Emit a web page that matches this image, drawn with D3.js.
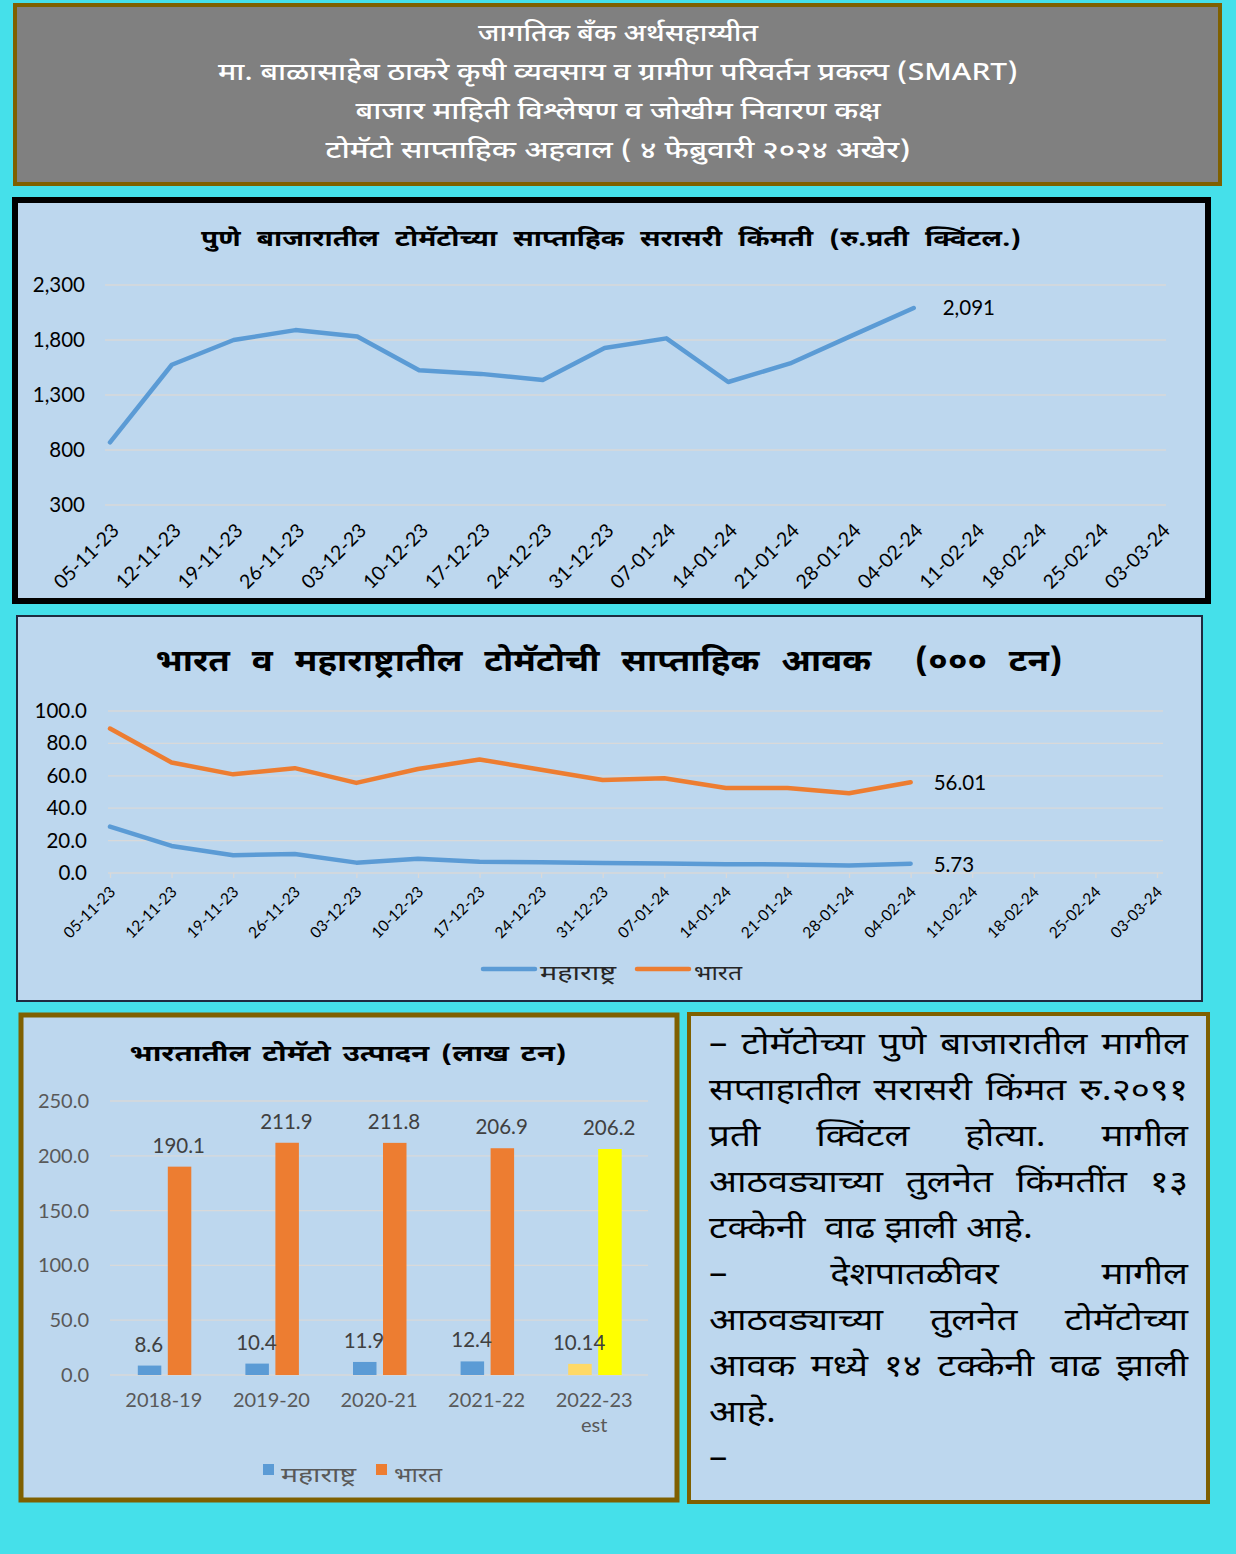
<!DOCTYPE html>
<html>
<head>
<meta charset="utf-8">
<script src="https://cdn.jsdelivr.net/npm/d3@7"></script>
<style>
  html, body { margin: 0; padding: 0; background: #45E0EA; }
  svg { display: block; }
</style>
</head>
<body>
<div id="chart"></div>
<script>
// साप्ताहिक तारखा
const weeks = ['05-11-23', '12-11-23', '19-11-23', '26-11-23', '03-12-23', '10-12-23', '17-12-23', '24-12-23',
  '31-12-23', '07-01-24', '14-01-24', '21-01-24', '28-01-24', '04-02-24', '11-02-24', '18-02-24', '25-02-24', '03-03-24'];

// पुणे बाजार सरासरी किंमत (रु./क्विंटल)
const punePrice = [870, 1575, 1800, 1890, 1832, 1525, 1492, 1437, 1727, 1815, 1418, 1587, 1840, 2091];

// आवक (००० टन)
const indiaArrival = [89.2, 68.2, 60.9, 64.7, 55.6, 64.2, 70.1, 63.7, 57.4, 58.5, 52.5, 52.5, 49.2, 56.01];
const mahaArrival = [28.6, 16.7, 11.0, 11.7, 6.4, 8.8, 6.9, 6.7, 6.2, 5.8, 5.4, 5.3, 4.6, 5.73];

// उत्पादन (लाख टन)
const years = ['2018-19', '2019-20', '2020-21', '2021-22', '2022-23 est'];
const mahaProd = [8.6, 10.4, 11.9, 12.4, 10.14];
const indiaProd = [190.1, 211.9, 211.8, 206.9, 206.2];

const deva = "'Noto Sans Devanagari', 'Lohit Devanagari', 'Noto Sans', sans-serif";
const num = "Lato, 'Noto Sans', sans-serif";
const blue = '#5B9BD5', orange = '#ED7D31', panelFill = '#BDD7EE', brown = '#7F6000', grid = '#D9D9D9';

const width = 1236, height = 1554;
const svg = d3.select('#chart').append('svg').attr('width', width).attr('height', height);
svg.append('rect').attr('width', width).attr('height', height).attr('fill', '#45E0EA');

// पॅनेल्स
function panel(x, y, w, h, fill, stroke, sw) {
  svg.append('rect').attr('x', x).attr('y', y).attr('width', w).attr('height', h)
    .attr('fill', fill).attr('stroke', stroke).attr('stroke-width', sw);
}
panel(15, 5, 1205, 179, '#808080', brown, 4);
panel(15, 200, 1193, 401, panelFill, '#000', 6);
panel(17, 616, 1185, 385, panelFill, '#1F2A40', 2);
panel(21, 1015, 656, 485, panelFill, brown, 5);
panel(689, 1014, 519, 488, panelFill, brown, 4);

// शीर्षक
const header = ['जागतिक बँक अर्थसहाय्यीत',
  'मा. बाळासाहेब ठाकरे कृषी व्यवसाय व ग्रामीण परिवर्तन प्रकल्प (SMART)',
  'बाजार माहिती विश्लेषण व जोखीम निवारण कक्ष',
  'टोमॅटो  साप्ताहिक अहवाल ( ४ फेब्रुवारी २०२४ अखेर)'];
const headerW = [280, 800, 525, 585];
svg.append('g').selectAll('text').data(header).join('text')
  .attr('x', 618).attr('y', (d, i) => 41 + i * 39)
  .attr('text-anchor', 'middle').attr('fill', '#fff')
  .attr('font-family', deva).attr('font-size', 24).attr('font-weight', 500)
  .attr('textLength', (d, i) => headerW[i]).attr('lengthAdjust', 'spacingAndGlyphs')
  .text(d => d);

function title(g, x, y, size, gap, len, txt) {
  g.append('text').attr('x', x).attr('y', y).attr('text-anchor', 'middle')
    .attr('font-family', deva).attr('font-size', size).attr('font-weight', 'bold')
    .attr('xml:space', 'preserve').style('word-spacing', gap + 'px')
    .attr('textLength', len).attr('lengthAdjust', 'spacingAndGlyphs')
    .text(txt);
}

// ---------- चार्ट १ : पुणे किंमत ----------
const x1 = d3.scalePoint().domain(weeks).range([110, 1161]);
const y1 = d3.scaleLinear().domain([300, 2300]).range([505, 285]);
const g1 = svg.append('g');
title(g1, 611, 246, 22, 7, 820, 'पुणे बाजारातील टोमॅटोच्या साप्ताहिक सरासरी किंमती (रु.प्रती क्विंटल.)');
g1.append('g').selectAll('line').data(d3.range(300, 2301, 500)).join('line')
  .attr('x1', 105).attr('x2', 1166).attr('y1', d => y1(d)).attr('y2', d => y1(d))
  .attr('stroke', grid).attr('stroke-width', 1.3);
g1.append('g').attr('transform', 'translate(105,0)')
  .call(d3.axisLeft(y1).tickValues(d3.range(300, 2301, 500)).tickFormat(d3.format(',')).tickSize(0).tickPadding(20))
  .call(g => g.select('.domain').remove())
  .call(g => g.selectAll('text').attr('font-family', num).attr('font-size', 20.5).attr('fill', '#000'));
g1.append('g').attr('transform', 'translate(0,512)')
  .call(d3.axisBottom(x1).tickSize(0).tickPadding(0))
  .call(g => g.select('.domain').remove())
  .call(g => g.selectAll('text').attr('font-family', num).attr('font-size', 19.5).attr('fill', '#000')
    .attr('text-anchor', 'end').attr('y', 0).attr('dy', '0.35em')
    .attr('transform', 'translate(5,15) rotate(-45)'));
g1.append('path').datum(punePrice)
  .attr('fill', 'none').attr('stroke', blue).attr('stroke-width', 4.5)
  .attr('stroke-linejoin', 'round').attr('stroke-linecap', 'round')
  .attr('d', d3.line().x((d, i) => x1(weeks[i])).y(d => y1(d)));
g1.append('text').attr('x', x1(weeks[punePrice.length - 1]) + 29).attr('y', y1(punePrice[punePrice.length - 1]) + 7)
  .attr('font-family', num).attr('font-size', 20.5).text(d3.format(',')(punePrice[punePrice.length - 1]));

// ---------- चार्ट २ : आवक ----------
const x2 = d3.scalePoint().domain(weeks).range([110, 1157]);
const y2 = d3.scaleLinear().domain([0, 100]).range([873, 711]);
const g2 = svg.append('g');
title(g2, 609, 671, 30, 11, 907, 'भारत व महाराष्ट्रातील टोमॅटोची साप्ताहिक आवक  (००० टन)');
g2.append('g').selectAll('line').data(d3.range(20, 101, 20)).join('line')
  .attr('x1', 108).attr('x2', 1163).attr('y1', d => y2(d)).attr('y2', d => y2(d))
  .attr('stroke', grid).attr('stroke-width', 1.3);
g2.append('g').attr('transform', 'translate(108,0)')
  .call(d3.axisLeft(y2).tickValues(d3.range(0, 101, 20)).tickFormat(d3.format('.1f')).tickSize(0).tickPadding(21))
  .call(g => g.select('.domain').remove())
  .call(g => g.selectAll('text').attr('font-family', num).attr('font-size', 20.5).attr('fill', '#000'));
g2.append('g').attr('transform', 'translate(0,873)')
  .call(d3.axisBottom(x2).tickSize(5).tickPadding(4))
  .call(g => g.select('.domain').attr('d', 'M108,0H1163').attr('stroke', grid).attr('stroke-width', 1.3))
  .call(g => g.selectAll('.tick line').attr('stroke', grid).attr('stroke-width', 1.3))
  .call(g => g.selectAll('text').attr('font-family', num).attr('font-size', 15.5).attr('fill', '#000')
    .attr('text-anchor', 'end').attr('y', 0).attr('dy', '0.35em')
    .attr('transform', 'translate(2,16) rotate(-45)'));
const arrivals = [{ name: 'महाराष्ट्र', values: mahaArrival, color: blue, lw: 76 },
  { name: 'भारत', values: indiaArrival, color: orange, lw: 48 }];
const line2 = d3.line().x((d, i) => x2(weeks[i])).y(d => y2(d));
g2.append('g').selectAll('path').data(arrivals).join('path')
  .attr('fill', 'none').attr('stroke', d => d.color).attr('stroke-width', 4.5)
  .attr('stroke-linejoin', 'round').attr('stroke-linecap', 'round')
  .attr('d', d => line2(d.values));
g2.append('g').selectAll('text').data(arrivals).join('text')
  .attr('x', d => x2(weeks[d.values.length - 1]) + 23)
  .attr('y', d => y2(d.values[d.values.length - 1]) + 8)
  .attr('font-family', num).attr('font-size', 20.5)
  .text(d => d.values[d.values.length - 1]);
const leg2 = g2.append('g').selectAll('g').data(arrivals).join('g')
  .attr('transform', (d, i) => `translate(${483 + i * 154},969)`);
leg2.append('line').attr('x2', 52).attr('stroke', d => d.color).attr('stroke-width', 4.5).attr('stroke-linecap', 'round');
leg2.append('text').attr('x', 57).attr('y', 11).attr('font-family', deva).attr('font-size', 20).attr('fill', '#262626')
  .attr('textLength', d => d.lw).attr('lengthAdjust', 'spacingAndGlyphs')
  .text(d => d.name);

// ---------- चार्ट ३ : उत्पादन ----------
const x3 = d3.scaleBand().domain(years).range([110, 648]);
const y3 = d3.scaleLinear().domain([0, 250]).range([1375, 1101]);
const g3 = svg.append('g');
title(g3, 348, 1061, 22, 3, 437, 'भारतातील टोमॅटो उत्पादन (लाख टन)');
g3.append('g').selectAll('line').data(d3.range(0, 251, 50)).join('line')
  .attr('x1', 110).attr('x2', 648).attr('y1', d => y3(d)).attr('y2', d => y3(d))
  .attr('stroke', grid).attr('stroke-width', 1.3);
g3.append('g').attr('transform', 'translate(110,0)')
  .call(d3.axisLeft(y3).tickValues(d3.range(0, 251, 50)).tickFormat(d3.format('.1f')).tickSize(0).tickPadding(21))
  .call(g => g.select('.domain').remove())
  .call(g => g.selectAll('text').attr('font-family', num).attr('font-size', 20).attr('fill', '#595959'));
const xa3 = g3.append('g').attr('transform', 'translate(0,1375)')
  .call(d3.axisBottom(x3).tickSize(0).tickPadding(28))
  .call(g => g.select('.domain').remove());
xa3.selectAll('text').attr('font-family', num).attr('font-size', 20).attr('fill', '#595959')
  .text(null)
  .selectAll('tspan').data(d => d.split(' ')).join('tspan')
  .attr('x', 0).attr('dy', (d, i) => i ? '1.25em' : '0.2em').text(d => d);
const prod = years.map((y, i) => ({ year: y, maha: mahaProd[i], india: indiaProd[i], est: y.includes('est') }));
const bw = 23.5;
g3.append('g').selectAll('rect').data(prod).join('rect')
  .attr('x', d => x3(d.year) + x3.bandwidth() / 2 - 26).attr('width', bw)
  .attr('y', d => y3(d.maha)).attr('height', d => y3(0) - y3(d.maha))
  .attr('fill', d => d.est ? '#FFD966' : blue);
g3.append('g').selectAll('rect').data(prod).join('rect')
  .attr('x', d => x3(d.year) + x3.bandwidth() / 2 + 4).attr('width', bw)
  .attr('y', d => y3(d.india)).attr('height', d => y3(0) - y3(d.india))
  .attr('fill', d => d.est ? '#FFFF00' : orange);
g3.append('g').selectAll('text').data(prod).join('text')
  .attr('x', d => x3(d.year) + x3.bandwidth() / 2 - 15).attr('y', d => y3(d.maha) - 14)
  .attr('text-anchor', 'middle').attr('font-family', num).attr('font-size', 20.5).attr('fill', '#404040')
  .text(d => d.maha);
g3.append('g').selectAll('text').data(prod).join('text')
  .attr('x', d => x3(d.year) + x3.bandwidth() / 2 + 15).attr('y', d => y3(d.india) - 14)
  .attr('text-anchor', 'middle').attr('font-family', num).attr('font-size', 20.5).attr('fill', '#404040')
  .text(d => d.india);
const leg3 = g3.append('g').selectAll('g').data([{ name: 'महाराष्ट्र', color: blue, lw: 75 }, { name: 'भारत', color: orange, lw: 48 }]).join('g')
  .attr('transform', (d, i) => `translate(${263 + i * 113},1464)`);
leg3.append('rect').attr('width', 11).attr('height', 11).attr('fill', d => d.color);
leg3.append('text').attr('x', 18).attr('y', 18).attr('font-family', deva).attr('font-size', 20).attr('fill', '#595959')
  .attr('textLength', d => d.lw).attr('lengthAdjust', 'spacingAndGlyphs')
  .text(d => d.name);

// ---------- मजकूर ----------
const noteLines = [
  { t: '– टोमॅटोच्या पुणे बाजारातील मागील', j: true },
  { t: 'सप्ताहातील सरासरी किंमत रु.२०९१', j: true },
  { t: 'प्रती क्विंटल होत्या. मागील', j: true },
  { t: 'आठवड्याच्या तुलनेत किंमतींत १३', j: true },
  { t: 'टक्केनी  वाढ झाली आहे.', j: false },
  { t: '– देशपातळीवर मागील', j: true },
  { t: 'आठवड्याच्या तुलनेत टोमॅटोच्या', j: true },
  { t: 'आवक मध्ये १४ टक्केनी वाढ झाली', j: true },
  { t: 'आहे.', j: false },
  { t: '–', j: false }
];
const tx0 = 709, tx1 = 1188;
const g4 = svg.append('g').attr('font-family', deva).attr('font-size', 30).attr('fill', '#000');
// संदर्भातील फॉन्ट रुंद आहे: ओळ ५ ची रुंदी ~३२४px
const probe = g4.append('text').attr('xml:space', 'preserve').text(noteLines[4].t);
const sx = Math.min(1.35, 324 / probe.node().getComputedTextLength());
probe.remove();
const inner = g4.append('g').attr('transform', `translate(${tx0},0) scale(${sx},1)`);
const innerW = (tx1 - tx0) / sx;
noteLines.forEach((ln, i) => {
  const yy = 1054 + i * 46;
  const words = ln.t.split(/\s+/);
  if (!ln.j) {
    inner.append('text').attr('x', 0).attr('y', yy).attr('xml:space', 'preserve').text(ln.t);
    return;
  }
  const els = words.map(w => inner.append('text').attr('y', yy).text(w));
  const ws = els.map(e => e.node().getComputedTextLength());
  const gap = (innerW - d3.sum(ws)) / (words.length - 1);
  let cx = 0;
  els.forEach((e, k) => { e.attr('x', cx); cx += ws[k] + gap; });
});
</script>
</body>
</html>
